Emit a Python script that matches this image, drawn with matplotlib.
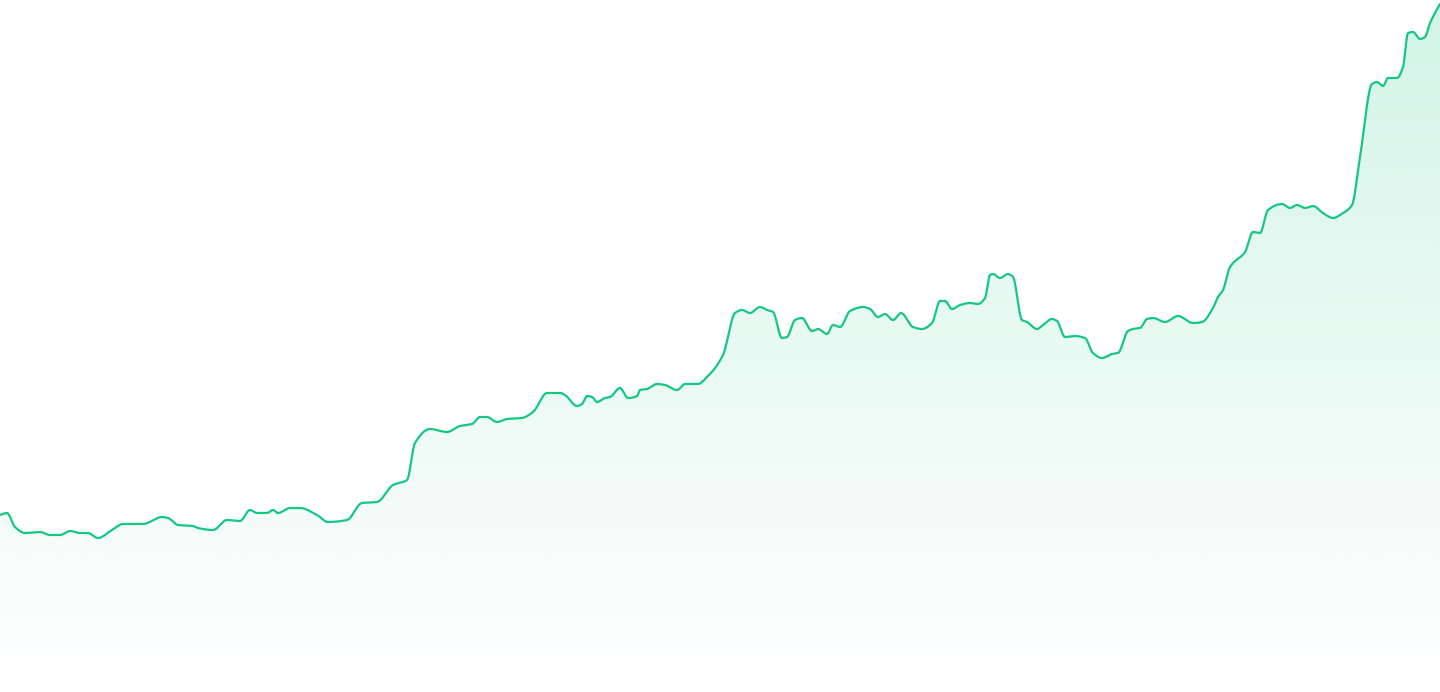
import matplotlib
matplotlib.use('Agg')
import matplotlib.pyplot as plt
import numpy as np
from matplotlib.colors import to_rgb

# points (x position, value)
xs = [0, 7, 15, 25, 40, 50, 60, 70, 80, 88, 98, 112, 123, 143, 162, 168, 178, 193, 198, 213,
      227, 240, 250, 257, 267, 273, 278, 290, 300, 317, 328, 347, 362, 377, 393, 407, 415, 430,
      447, 460, 472, 480, 487, 497, 507, 522, 533, 547, 560, 565, 577, 582, 587, 592, 597, 605,
      610, 620, 628, 637, 640, 647, 657, 665, 677, 685, 698, 707, 723, 735, 742, 750, 760, 767,
      773, 782, 787, 795, 802, 812, 818, 827, 833, 840, 850, 863, 870, 878, 885, 893, 901, 913,
      922, 932, 940, 945, 952, 960, 970, 978, 985, 990, 993, 1000, 1008, 1013, 1022, 1027, 1037,
      1043, 1052, 1057, 1065, 1075, 1085, 1093, 1102, 1112, 1118, 1128, 1133, 1140, 1147, 1153,
      1165, 1178, 1193, 1202, 1213, 1218, 1223, 1230, 1245, 1253, 1260, 1268, 1282, 1290, 1297,
      1305, 1313, 1323, 1333, 1343, 1352, 1360, 1372, 1377, 1383, 1388, 1397, 1403, 1408, 1413,
      1420, 1425, 1430, 1440]
ys_px = [515, 513, 527, 533, 532, 535, 535, 531, 533, 533, 538, 530, 524, 524, 517, 518, 525, 526,
         528, 530, 520, 521, 510, 513, 513, 510, 513, 508, 508, 515, 522, 520, 503, 502, 485, 480,
         443, 429, 432, 426, 424, 417, 417, 422, 419, 418, 412, 393, 393, 395, 406, 404, 396, 397,
         402, 398, 397, 388, 398, 396, 390, 389, 384, 385, 390, 384, 384, 377, 355, 313, 310, 313,
         307, 310, 312, 338, 337, 320, 318, 331, 329, 334, 325, 327, 311, 307, 309, 317, 314, 320,
         313, 327, 329, 323, 301, 301, 309, 305, 303, 304, 298, 275, 274, 278, 274, 277, 320, 322,
         329, 325, 319, 321, 337, 336, 338, 353, 358, 354, 353, 331, 329, 328, 319, 318, 322, 316,
         323, 322, 308, 297, 290, 267, 252, 232, 233, 210, 204, 208, 205, 208, 206, 213, 218, 213,
         205, 157, 84, 82, 86, 78, 78, 67, 33, 32, 39, 37, 23, 4]
values = [692 - y for y in ys_px]

line_color = '#16c784'


def monotone(x, y, n=8000):
    # Fritsch-Carlson monotone cubic, just for drawing the smooth curve
    x = np.asarray(x, float)
    y = np.asarray(y, float)
    h = np.diff(x)
    d = np.diff(y) / h
    m = np.zeros_like(y)
    m[0], m[-1] = d[0], d[-1]
    for i in range(1, len(y) - 1):
        if d[i - 1] * d[i] <= 0:
            m[i] = 0
        else:
            w1 = 2 * h[i] + h[i - 1]
            w2 = h[i] + 2 * h[i - 1]
            m[i] = (w1 + w2) / (w1 / d[i - 1] + w2 / d[i])
    xx = np.linspace(x[0], x[-1], n)
    k = np.clip(np.searchsorted(x, xx) - 1, 0, len(x) - 2)
    t = (xx - x[k]) / h[k]
    h00 = 2 * t**3 - 3 * t**2 + 1
    h10 = t**3 - 2 * t**2 + t
    h01 = -2 * t**3 + 3 * t**2
    h11 = t**3 - t**2
    yy = h00 * y[k] + h10 * h[k] * m[k] + h01 * y[k + 1] + h11 * h[k] * m[k + 1]
    return xx, yy


fig = plt.figure(figsize=(14.4, 6.92), dpi=100)
ax = fig.add_axes([0, 0, 1, 1])
ax.set_xlim(0, 1440)
ax.set_ylim(0, 692)
ax.axis('off')

sx, sy = monotone(xs, values)

# gradient fill under the line
rgb = to_rgb(line_color)
grad = np.zeros((256, 1, 4))
grad[:, :, 0], grad[:, :, 1], grad[:, :, 2] = rgb
grad[:, 0, 3] = np.linspace(0.19, 0.0, 256)
im = ax.imshow(grad, extent=[0, 1440, 0, 692], origin='upper', aspect='auto', zorder=1)
poly = ax.fill_between(sx, 0, sy, color='none', lw=0)
im.set_clip_path(poly.get_paths()[0], transform=ax.transData)

ax.plot(sx, sy, color=line_color, lw=1.6, zorder=2, solid_capstyle='round')

plt.savefig('out.png', dpi=100)
